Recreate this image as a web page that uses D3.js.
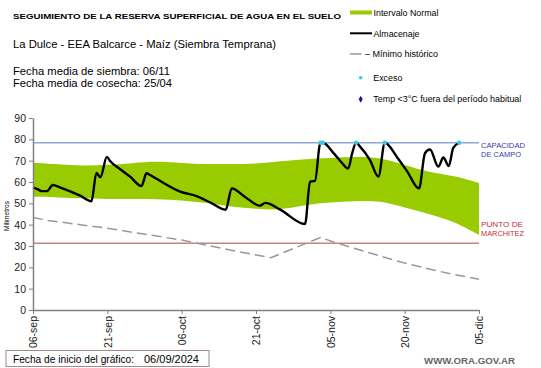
<!DOCTYPE html>
<html>
<head>
<meta charset="utf-8">
<script src="https://cdn.jsdelivr.net/npm/d3@7"></script>
<style>
  body { margin: 0; background: #fff; }
  text { font-family: "Liberation Sans", Arial, sans-serif; }
</style>
</head>
<body>
<div id="chart"></div>
<script>
// Datos (dias desde 06/09/2024)
var bandDias = [0, 5, 10, 15, 20, 25, 30, 35, 40, 45, 50, 55, 60, 65, 70, 75, 80, 85, 90];
var normalSup = [69, 68.3, 67.6, 68, 68.8, 69.8, 68.8, 68.3, 68.5, 68.5, 69.8, 70.8, 71.3, 71.8, 71.5, 68, 64.5, 63, 59.5];
var normalInf = [53.1, 52.8, 52.3, 52, 52, 52, 51.5, 50.2, 48.3, 47.4, 46.8, 49.3, 50.5, 51, 51.3, 48, 45, 41.5, 35.2];

var almDias = [0, 1, 1.8, 2.8, 4, 5.4, 7.5, 9.5, 11.8, 12.8, 13.6, 14.9, 15.5, 17.6, 19.6, 21.9, 22.9, 23.6, 26.6, 29.7, 33,
  35.7, 38.9, 40.1, 42.8, 45.8, 46.9, 49.8, 54.9, 55.9, 56.9, 58, 58.5, 60.7, 62.4, 63.6, 64.4, 65.2, 66, 68, 69.7, 71,
  73.5, 75.5, 77.9, 79.1, 80.1, 81.8, 82.8, 83.9, 84.8, 86];
var almacenaje = [57.5, 56.5, 55.7, 55.7, 58.6, 57.5, 55.6, 53.6, 51, 64.3, 62.2, 71.8, 70, 66, 62.5, 58.1, 64.1, 63.3, 59.2, 55.5, 53.4,
  50.5, 47, 57, 53, 48.9, 50.2, 47.2, 40.3, 60.2, 60.5, 78.4, 78.4, 73.4, 68.8, 66.3, 73.4, 78.4, 76.6, 70.3, 62.5, 78.4,
  71.5, 65, 57, 73.5, 75.2, 67.2, 71.5, 67.5, 76, 78.4];

var minDias = [0, 3, 15, 30, 40, 48, 58, 60.5, 66, 74, 81, 86, 90];
var minimo = [43.4, 42, 38.3, 32.8, 28, 24.5, 34, 32, 28.1, 22.6, 18.6, 16.2, 14.4];

var excesoDias = [58, 58.5, 65.2, 71, 86];
var capacidadCampo = 78.4;
var puntoMarchitez = 31.3;

var yTicks = [0, 10, 20, 30, 40, 50, 60, 70, 80, 90];
var xTickDias = [0, 15, 30, 45, 60, 75, 90];
var xTickLabels = ["06-sep", "21-sep", "06-oct", "21-oct", "05-nov", "20-nov", "05-dic"];

// Chart setup
var svgWidth = 541;
var svgHeight = 368;

var svg = d3.select("#chart")
  .append("svg")
  .attr("width", svgWidth)
  .attr("height", svgHeight);

var x = d3.scaleLinear().domain([0, 90]).range([33, 479]);
var y = d3.scaleLinear().domain([0, 90]).range([310, 118]);

// helper for texts with a fixed width
function addText(tx, ty, str, size, len, opts) {
  opts = opts || {};
  var t = svg.append("text")
    .attr("x", tx)
    .attr("y", ty)
    .attr("font-size", size)
    .attr("fill", opts.fill || "#000")
    .attr("font-weight", opts.weight || "normal")
    .text(str);
  if (len) t.attr("textLength", len).attr("lengthAdjust", "spacingAndGlyphs");
  if (opts.family) t.style("font-family", opts.family);
  return t;
}

// Titles
addText(13, 18.5, "SEGUIMIENTO DE LA RESERVA SUPERFICIAL DE AGUA EN EL SUELO", 8, 328, {weight: "bold"});
addText(13, 48, "La Dulce - EEA Balcarce - Maíz  (Siembra Temprana)", 11, 263);
addText(13, 75, "Fecha media de siembra: 06/11", 11, 157);
addText(13, 86.5, "Fecha media de cosecha: 25/04", 11, 159);

// Banda normal
var bandData = bandDias.map((d, i) => ({d: d, sup: normalSup[i], inf: normalInf[i]}));
svg.append("path")
  .datum(bandData)
  .attr("fill", "#99cc00")
  .attr("d", d3.area()
    .x(d => x(d.d))
    .y0(d => y(d.inf))
    .y1(d => y(d.sup))
    .curve(d3.curveBasis));

// Capacidad de campo / punto de marchitez
svg.append("line")
  .attr("x1", x(0)).attr("x2", x(90))
  .attr("y1", y(capacidadCampo)).attr("y2", y(capacidadCampo))
  .attr("stroke", "#8fa6d8").attr("stroke-width", 1.3);
svg.append("line")
  .attr("x1", x(0)).attr("x2", x(90))
  .attr("y1", y(puntoMarchitez)).attr("y2", y(puntoMarchitez))
  .attr("stroke", "#c08686").attr("stroke-width", 1.3);

// Minimo historico
var minData = minDias.map((d, i) => ({d: d, v: minimo[i]}));
svg.append("path")
  .datum(minData)
  .attr("fill", "none")
  .attr("stroke", "#999")
  .attr("stroke-width", 1.5)
  .attr("stroke-dasharray", "10,5")
  .attr("d", d3.line().x(d => x(d.d)).y(d => y(d.v)));

// Almacenaje
var almData = almDias.map((d, i) => ({d: d, v: almacenaje[i]}));
svg.append("path")
  .datum(almData)
  .attr("fill", "none")
  .attr("stroke", "#000")
  .attr("stroke-width", 2.4)
  .attr("stroke-linejoin", "round")
  .attr("d", d3.line().x(d => x(d.d)).y(d => y(d.v)).curve(d3.curveMonotoneX));

// Exceso
svg.selectAll(".exceso")
  .data(excesoDias)
  .enter()
  .append("circle")
  .attr("class", "exceso")
  .attr("cx", d => x(d))
  .attr("cy", y(capacidadCampo))
  .attr("r", 2.2)
  .attr("fill", "#3cc8e0");

// Axes
var leftAxis = d3.axisLeft(y).tickValues(yTicks).tickSize(4).tickSizeOuter(0);
var yAxis = svg.append("g")
  .attr("transform", `translate(${x(0)},0)`)
  .call(leftAxis);
yAxis.select(".domain").attr("stroke", "#808080").attr("stroke-width", 1.5);
yAxis.selectAll(".tick line").attr("stroke", "#808080");
yAxis.selectAll(".tick text")
  .attr("font-size", 10.5)
  .attr("fill", "#222")
  .attr("x", -7)
  .style("font-family", "Liberation Sans, Arial, sans-serif");

var bottomAxis = d3.axisBottom(x)
  .tickValues(xTickDias)
  .tickFormat((d, i) => xTickLabels[i])
  .tickSize(4)
  .tickSizeOuter(0);
var xAxis = svg.append("g")
  .attr("transform", `translate(0,${y(0)})`)
  .call(bottomAxis);
xAxis.select(".domain").attr("stroke", "#808080").attr("stroke-width", 1.5);
xAxis.selectAll(".tick line").attr("stroke", "#808080");
xAxis.selectAll(".tick text")
  .attr("font-size", 10.5)
  .attr("fill", "#222")
  .attr("transform", "rotate(-90)")
  .attr("x", -6)
  .attr("y", 0)
  .attr("dy", "0.35em")
  .attr("text-anchor", "end")
  .style("font-family", "Liberation Sans, Arial, sans-serif");

// Y label
svg.append("text")
  .attr("transform", "translate(9,216) rotate(-90)")
  .attr("text-anchor", "middle")
  .attr("font-size", 6.5)
  .text("Milímetros");

// Right labels
addText(481, 148, "CAPACIDAD", 7.5, 44, {fill: "#3a3ab0"});
addText(481, 157, "DE  CAMPO", 7.5, 40, {fill: "#3a3ab0"});
addText(481, 227, "PUNTO  DE", 7.5, 42, {fill: "#c0303a"});
addText(481, 235.5, "MARCHITEZ", 7.5, 43, {fill: "#c0303a"});

// Legend
svg.append("rect").attr("x", 350).attr("y", 10.5).attr("width", 22).attr("height", 4).attr("fill", "#99cc00");
addText(373.5, 15.5, "Intervalo Normal", 8.5, 65);
svg.append("line").attr("x1", 350).attr("x2", 372).attr("y1", 33.3).attr("y2", 33.3)
  .attr("stroke", "#000").attr("stroke-width", 2);
addText(373.5, 36.5, "Almacenaje", 8.5, 46);
svg.append("line").attr("x1", 350).attr("x2", 361.5).attr("y1", 54).attr("y2", 54)
  .attr("stroke", "#999").attr("stroke-width", 1.5);
addText(365, 57, "– Mínimo histórico", 8.5, 73);
svg.append("circle").attr("cx", 360.7).attr("cy", 77.7).attr("r", 1.8).attr("fill", "#3cc8e0");
addText(373.3, 80.5, "Exceso", 8.5, 29);
svg.append("path")
  .attr("d", d3.symbol().type(d3.symbolDiamond).size(14)())
  .attr("transform", "translate(360.7,99.3)")
  .attr("fill", "#1a1a8c");
addText(373.3, 102.3, "Temp <3°C fuera del período habitual", 8.5, 148);

// Bottom box
svg.append("rect")
  .attr("x", 6).attr("y", 350.5).attr("width", 203).attr("height", 16)
  .attr("fill", "none").attr("stroke", "#a08a8a").attr("stroke-width", 1);
addText(13, 363, "Fecha de inicio del gráfico:", 10, 121);
addText(144, 363, "06/09/2024", 10, 55);
addText(424, 364, "WWW.ORA.GOV.AR", 9, 91, {fill: "#666", weight: "bold"});
</script>
</body>
</html>
